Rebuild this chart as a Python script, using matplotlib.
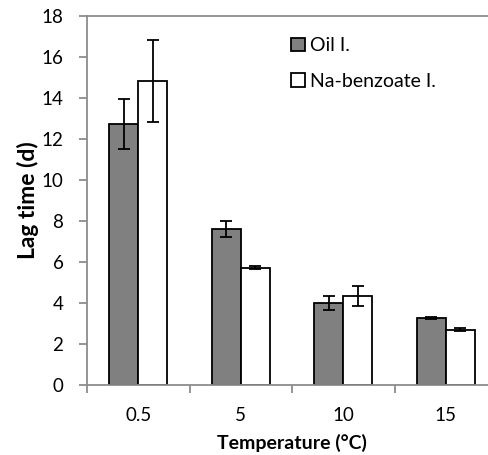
import numpy as np
from matplotlib import pyplot as plt

categories = ["0.5", "5", "10", "15"]
oil = [12.73, 7.61, 4.0, 3.27]
oil_err = [1.2, 0.4, 0.32, 0.07]
benzoate = [14.84, 5.72, 4.33, 2.7]
benzoate_err = [2.0, 0.08, 0.48, 0.07]

plt.rcParams["font.family"] = ["Lato", "DejaVu Sans"]

fig = plt.figure(figsize=(4.88, 4.55), dpi=100)
# right edge of the plot area is cut off in the original
ax = fig.add_axes([87 / 488, 1 - 385 / 455, 410 / 488, 369 / 455])

x = np.arange(len(categories))
width = 0.283
err_kw = dict(ecolor="black", elinewidth=1.3, capsize=4, capthick=1.3)
ax.bar(x - width / 2, oil, width, yerr=oil_err, color="#808080",
       edgecolor="black", linewidth=1.3, label="Oil I.", error_kw=err_kw)
ax.bar(x + width / 2, benzoate, width, yerr=benzoate_err, color="white",
       edgecolor="black", linewidth=1.3, label="Na-benzoate I.", error_kw=err_kw)

ax.set_xlim(-0.5, len(categories) - 0.5)
ax.set_ylim(0, 18)
ax.set_yticks(np.arange(0, 19, 2))
ax.set_xticks(x)
ax.set_xticklabels(categories)
ax.set_xticks(np.arange(-0.5, len(categories), 1), minor=True)

grey = "#8c8c8c"
for s in ax.spines.values():
    s.set_color(grey)
    s.set_linewidth(1.3)
ax.tick_params(axis="y", color=grey, width=1.3, length=6, labelsize=13.5, pad=11)
ax.tick_params(axis="x", which="major", length=0, labelsize=13.5, pad=16)
ax.tick_params(axis="x", which="minor", color=grey, width=1.3, length=6)

ax.set_ylabel("Lag time (d)", fontsize=16.5, fontweight="bold")
ax.yaxis.set_label_coords(-0.118, 0.5)
ax.set_xlabel("Temperature (°C)", fontsize=14, fontweight="bold", labelpad=7)

ax.legend(loc="upper left", bbox_to_anchor=(0.455, 0.99), frameon=False,
          fontsize=14, handlelength=0.7, handleheight=0.7, handletextpad=0.3,
          labelspacing=0.95)

fig.savefig("out.png", dpi=100)
